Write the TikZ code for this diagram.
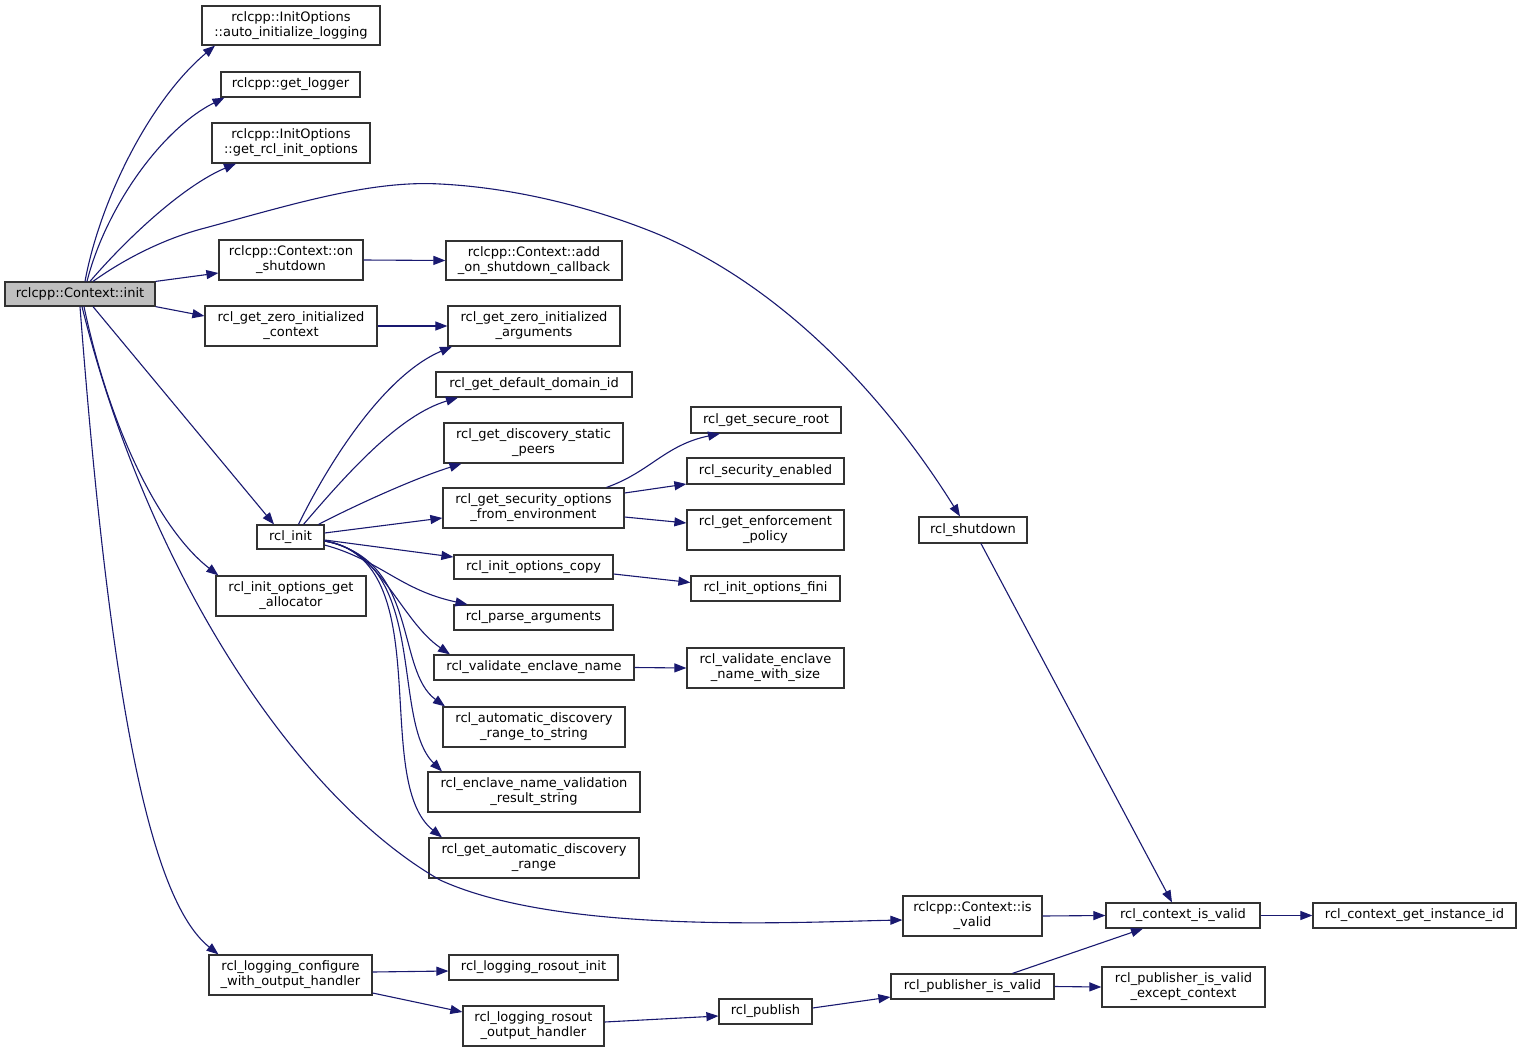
\documentclass[tikz,border=0pt]{standalone}
\usepackage{fontspec}
\setmainfont{DejaVu Sans}
\usetikzlibrary{arrows.meta}
\definecolor{edgecol}{RGB}{25,25,112}
\definecolor{boxline}{RGB}{50,50,50}
\definecolor{rootfill}{RGB}{191,191,191}
\begin{document}
\begin{tikzpicture}[x=1pt,y=-1pt,
 box/.style={draw=boxline, line width=1.2pt, fill=white, inner sep=0pt, align=center, font=\fontsize{13}{15}\selectfont},
 one/.style={box, text height=9.5pt, text depth=3pt},
 edge/.style={draw=edgecol, line width=1.1pt, -{Triangle[length=12pt,width=9pt]}}]
\useasboundingbox[fill=white] (0,0) rectangle (1521,1052);

% nodes
\node[one, fill=rootfill, minimum width=150pt, minimum height=24pt] (init) at (80,294) {rclcpp::Context::init};
\node[box, minimum width=178pt, minimum height=39pt] (autolog) at (291,25.5) {rclcpp::InitOptions\\::auto\_initialize\_logging};
\node[one, minimum width=139pt, minimum height=25pt] (getlogger) at (290.5,84.5) {rclcpp::get\_logger};
\node[box, minimum width=158pt, minimum height=40pt] (getrclinit) at (291,143) {rclcpp::InitOptions\\::get\_rcl\_init\_options};
\node[box, minimum width=144pt, minimum height=40pt] (onshut) at (291,260) {rclcpp::Context::on\\\_shutdown};
\node[box, minimum width=172pt, minimum height=40pt] (zctx) at (291,326) {rcl\_get\_zero\_initialized\\\_context};
\node[box, minimum width=176pt, minimum height=39pt] (addcb) at (534,260.5) {rclcpp::Context::add\\\_on\_shutdown\_callback};
\node[box, minimum width=172pt, minimum height=40pt] (zargs) at (534,326) {rcl\_get\_zero\_initialized\\\_arguments};
\node[one, minimum width=196pt, minimum height=25pt] (domain) at (534,384.5) {rcl\_get\_default\_domain\_id};
\node[box, minimum width=179pt, minimum height=40pt] (peers) at (533.5,443) {rcl\_get\_discovery\_static\\\_peers};
\node[box, minimum width=181pt, minimum height=40pt] (secopts) at (533.5,508) {rcl\_get\_security\_options\\\_from\_environment};
\node[one, minimum width=67pt, minimum height=24pt] (rclinit) at (290.5,537) {rcl\_init};
\node[one, minimum width=159pt, minimum height=24pt] (optcopy) at (533.5,567) {rcl\_init\_options\_copy};
\node[one, minimum width=159pt, minimum height=25pt] (parse) at (533.5,617.5) {rcl\_parse\_arguments};
\node[one, minimum width=200pt, minimum height=25pt] (validate) at (534,667.5) {rcl\_validate\_enclave\_name};
\node[box, minimum width=182pt, minimum height=40pt] (rangestr) at (534,727) {rcl\_automatic\_discovery\\\_range\_to\_string};
\node[box, minimum width=212pt, minimum height=40pt] (enclstr) at (534,792) {rcl\_enclave\_name\_validation\\\_result\_string};
\node[box, minimum width=210pt, minimum height=40pt] (autorange) at (534,858) {rcl\_get\_automatic\_discovery\\\_range};
\node[box, minimum width=150pt, minimum height=40pt] (alloc) at (291,596) {rcl\_init\_options\_get\\\_allocator};
\node[one, minimum width=150pt, minimum height=26pt] (secroot) at (766,420) {rcl\_get\_secure\_root};
\node[one, minimum width=157pt, minimum height=26pt] (secen) at (765.5,471) {rcl\_security\_enabled};
\node[box, minimum width=157pt, minimum height=40pt] (enforce) at (765.5,530) {rcl\_get\_enforcement\\\_policy};
\node[one, minimum width=149pt, minimum height=25pt] (fini) at (765.5,588.5) {rcl\_init\_options\_fini};
\node[box, minimum width=157pt, minimum height=40pt] (withsize) at (765.5,668) {rcl\_validate\_enclave\\\_name\_with\_size};
\node[one, minimum width=108pt, minimum height=26pt] (shutdown) at (973,530) {rcl\_shutdown};
\node[box, minimum width=139pt, minimum height=40pt] (isvalid) at (972.5,916) {rclcpp::Context::is\\\_valid};
\node[one, minimum width=154pt, minimum height=25pt] (ctxvalid) at (1183,915.5) {rcl\_context\_is\_valid};
\node[one, minimum width=203pt, minimum height=25pt] (instid) at (1414.5,915.5) {rcl\_context\_get\_instance\_id};
\node[box, minimum width=163pt, minimum height=40pt] (logcfg) at (290.5,975) {rcl\_logging\_configure\\\_with\_output\_handler};
\node[one, minimum width=169pt, minimum height=25pt] (rosinit) at (533.5,967.5) {rcl\_logging\_rosout\_init};
\node[box, minimum width=141pt, minimum height=40pt] (roshandler) at (533.5,1026) {rcl\_logging\_rosout\\\_output\_handler};
\node[one, minimum width=93pt, minimum height=25pt] (publish) at (765.5,1011.5) {rcl\_publish};
\node[one, minimum width=163pt, minimum height=25pt] (pubvalid) at (972.5,986.5) {rcl\_publisher\_is\_valid};
\node[box, minimum width=163pt, minimum height=40pt] (pubexcept) at (1183.5,987) {rcl\_publisher\_is\_valid\\\_except\_context};

% edges from init
\draw[edge] ([xshift=5pt]init.north) .. controls (100,200) and (150,100) .. ([xshift=-76pt]autolog.south);
\draw[edge] ([xshift=7pt]init.north) .. controls (105,210) and (160,130) .. ([xshift=-66pt]getlogger.south);
\draw[edge] ([xshift=10pt]init.north) .. controls (130,235) and (185,185) .. ([xshift=-55pt]getrclinit.south);
\draw[edge] ([xshift=13pt]init.north) .. controls (130,255) and (170,237) .. (205,228)
  .. controls (290,205) and (370,180) .. (440,184)
  .. controls (520,188) and (600,210) .. (660,235)
  .. controls (800,295) and (900,420) .. ([xshift=-13pt]shutdown.north);
\draw[edge] (init.north east) -- ([yshift=-13pt]onshut.west);
\draw[edge] (init.south east) -- ([yshift=10pt]zctx.west);
\draw[edge] ([xshift=13pt]init.south) -- ([xshift=-16.5pt]rclinit.north);
\draw[edge] ([xshift=4pt]init.south) .. controls (110,430) and (160,530) .. ([xshift=3pt]alloc.north west);
\draw[edge] ([xshift=2pt]init.south) .. controls (150,580) and (300,800) .. (440,880)
  .. controls (560,935) and (800,922) .. ([yshift=-4pt]isvalid.west);
\draw[edge] (init.south) .. controls (110,700) and (150,900) .. ([xshift=-72pt]logcfg.north);

% edges from rcl_init
\draw[edge] ([xshift=8pt]rclinit.north) .. controls (330,460) and (385,375) .. ([xshift=-82pt]zargs.south);
\draw[edge] ([xshift=13pt]rclinit.north) .. controls (350,470) and (400,415) .. ([xshift=-76pt]domain.south);
\draw[edge] ([xshift=28pt]rclinit.north) .. controls (350,508) and (410,480) .. ([xshift=-72pt]peers.south);
\draw[edge] ([yshift=4pt]rclinit.east) -- ([yshift=-10pt]secopts.west);
\draw[edge] ([yshift=-3pt]rclinit.east) -- ([yshift=10pt]optcopy.west);
\draw[edge] ([yshift=-8pt]rclinit.east) .. controls (380,560) and (400,590) .. ([xshift=-66pt]parse.north);
\draw[edge] ([yshift=-4pt]rclinit.east) .. controls (380,548) and (400,620) .. ([xshift=-84pt]validate.north);
\draw[edge] ([yshift=-4pt]rclinit.east) .. controls (420,560) and (395,670) .. ([xshift=-89pt]rangestr.north);
\draw[edge] ([yshift=-4pt]rclinit.east) .. controls (430,560) and (390,720) .. ([xshift=-92pt]enclstr.north);
\draw[edge] ([yshift=-4pt]rclinit.east) .. controls (440,560) and (370,780) .. ([xshift=-92pt]autorange.north);

% other edges
\draw[edge] (onshut.east) -- (addcb.west);
\draw[edge] (zctx.east) -- (zargs.west);
\draw[edge] ([xshift=73pt]secopts.north) .. controls (650,472) and (665,445) .. ([xshift=-46pt]secroot.south);
\draw[edge] ([yshift=15pt]secopts.east) -- ([yshift=-13pt]secen.west);
\draw[edge] ([yshift=-9pt]secopts.east) -- ([yshift=7pt]enforce.west);
\draw[edge] ([yshift=-7pt]optcopy.east) -- ([yshift=6pt]fini.west);
\draw[edge] (validate.east) -- (withsize.west);
\draw[edge] ([xshift=8pt]shutdown.south) -- ([xshift=-11pt]ctxvalid.north);
\draw[edge] (isvalid.east) -- (ctxvalid.west);
\draw[edge] (ctxvalid.east) -- (instid.west);
\draw[edge] ([yshift=3pt]logcfg.east) -- ([yshift=-3.5pt]rosinit.west);
\draw[edge] ([yshift=-18pt]logcfg.east) -- ([yshift=14pt]roshandler.west);
\draw[edge] ([yshift=4pt]roshandler.east) -- ([yshift=-4.5pt]publish.west);
\draw[edge] ([yshift=3.5pt]publish.east) -- ([yshift=-10.5pt]pubvalid.west);
\draw[edge] ([xshift=40pt]pubvalid.north) -- ([xshift=-40pt]ctxvalid.south);
\draw[edge] (pubvalid.east) -- (pubexcept.west);
\end{tikzpicture}
\end{document}
